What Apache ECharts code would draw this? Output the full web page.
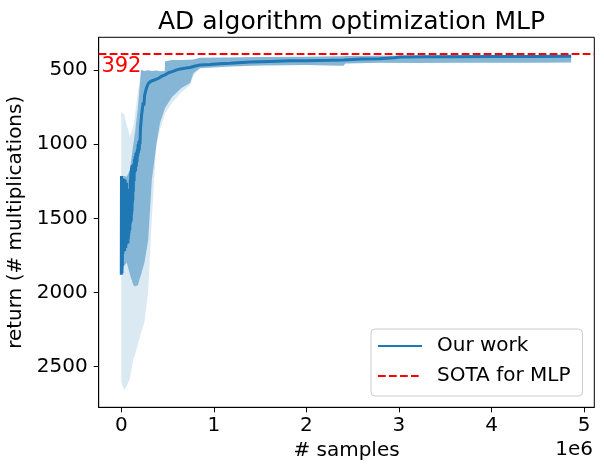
<!DOCTYPE html>
<html>
<head>
<meta charset="utf-8">
<script src="https://cdn.jsdelivr.net/npm/echarts@6/dist/echarts.min.js"></script>
<style>
html,body{margin:0;padding:0;background:#fff;}
#chart{width:604px;height:472px;}
</style>
</head>
<body>
<div id="chart"></div>
<script>
// x values are in units of 1e6 samples
var meanX = [0.000,0.002,0.004,0.006,0.008,0.010,0.012,0.014,0.016,0.018,0.020,0.022,0.024,0.026,0.028,0.030,0.032,0.034,0.036,0.038,0.040,0.042,0.044,0.046,0.048,0.050,0.052,0.054,0.056,0.058,0.060,0.062,0.064,0.066,0.068,0.070,0.072,0.074,0.076,0.078,0.080,0.082,0.084,0.086,0.088,0.090,0.092,0.094,0.096,0.098,0.100,0.102,0.104,0.106,0.108,0.110,0.112,0.114,0.116,0.118,0.120,0.122,0.124,0.126,0.130,0.134,0.138,0.142,0.146,0.150,0.154,0.158,0.162,0.166,0.170,0.174,0.178,0.182,0.186,0.190,0.194,0.198,0.202,0.208,0.214,0.220,0.228,0.236,0.244,0.252,0.262,0.272,0.282,0.292,0.305,0.320,0.340,0.364,0.40,0.44,0.472,0.51,0.55,0.60,0.634,0.70,0.743,0.80,0.85,0.958,1.06,1.174,1.39,1.60,1.82,2.00,2.25,2.40,2.416,2.60,2.794,2.95,3.01,3.30,3.55,4.00,4.50,4.86];
var meanY = [1880,1215,1860,1240,1870,1300,1820,1230,1740,1290,1730,1250,1700,1340,1690,1235,1650,1260,1720,1300,1690,1240,1660,1280,1700,1320,1680,1380,1650,1260,1670,1400,1640,1350,1660,1420,1670,1360,1640,1380,1620,1350,1600,1330,1560,1300,1580,1350,1540,1240,1530,1200,1500,1180,1520,1160,1470,1150,1450,1140,1400,1150,1380,1140,1320,1130,1250,1100,1190,1080,1180,1060,1150,1050,1120,1030,1080,1000,1060,980,1040,970,1000,890,900,800,810,720,740,670,680,620,630,590,600,575,580,565,556,540,532,518,510,498,492,486,482,472,466,462,457,453,445,441,437,436,434,432,426,425,423,416,412,410,409,408,408,407];

var bandX  = [0,0.03,0.06,0.094,0.13,0.148,0.18,0.202,0.213,0.25,0.29,0.33,0.38,0.418,0.47,0.472,0.548,0.65,0.743,0.78,0.85,1.174,1.5,2.0,2.4,2.42,2.79,3.2,3.6,4.0,4.4,4.86];
var bandLo = [1213,1215,1220,1170,1000,923,750,586,498,505,500,506,502,508,505,442,431,431,430,428,416,414,412,410,407,405,403,401,400,399,398,397];
var bandHi = [1880,1820,1800,1880,1950,1960,1950,1900,1880,1800,1650,1240,1000,856,760,755,681,620,586,520,488,476,469,466,470,455,450,452,450,451,450,449];
var outerLo = [780,800,870,950,880,800,650,560,498,505,500,506,502,508,505,442,431,431,430,428,416,414,412,410,407,405,403,401,400,399,398,397];
var outerHi = [2600,2660,2630,2580,2450,2420,2350,2300,2270,2200,2000,1500,1000,900,800,795,720,650,600,540,488,476,469,466,470,455,450,452,450,451,450,449];

var sotaValue = 392;
var xTicks = [0,1,2,3,4,5];
var yTicks = [500,1000,1500,2000,2500];
var xMin = -0.244, xMax = 5.11;
var yMin = 278.5, yMax = 2774.5;

function pairs(xs, ys){ return xs.map(function(x,i){ return [x, ys[i]]; }); }
function bandRenderer(xs, lo, hi, fill){
  return function(params, api){
    if (params.dataIndex !== 0) return null;
    var pts = [];
    for (var i = 0; i < xs.length; i++) pts.push(api.coord([xs[i], lo[i]]));
    for (var j = xs.length - 1; j >= 0; j--) pts.push(api.coord([xs[j], hi[j]]));
    return {type:'polygon', shape:{points:pts}, style:{fill:fill, stroke:null}};
  };
}

var FONT = 'DejaVu Sans';
var chart = echarts.init(document.getElementById('chart'), null, {renderer:'canvas'});
chart.setOption({
  animation:false,
  backgroundColor:'#ffffff',
  title:{
    text:'AD algorithm optimization MLP',
    left:153, top:5,
    textStyle:{fontFamily:FONT, fontSize:25, fontWeight:'normal', color:'#000'}
  },
  grid:{left:98.7, right:9.7, top:37.3, bottom:64.7, containLabel:false, outerBoundsMode:'none',
        show:true, borderColor:'#000', borderWidth:1, backgroundColor:'transparent'},
  legend:{
    data:['Our work','SOTA for MLP'],
    orient:'vertical',
    left:371, top:329,
    itemWidth:44, itemHeight:14, itemGap:10,
    padding:[7,12,10,6],
    backgroundColor:'rgba(255,255,255,0.8)',
    borderColor:'#cccccc', borderWidth:1, borderRadius:4,
    itemStyle:{opacity:0},
    lineStyle:{width:2},
    textStyle:{fontFamily:FONT, fontSize:20, color:'#000', padding:[0,0,0,10]}
  },
  xAxis:{
    type:'value', min:xMin, max:xMax,
    name:'# samples', nameLocation:'middle', nameGap:33,
    nameTextStyle:{fontFamily:FONT, fontSize:20, color:'#000'},
    axisLine:{show:true, onZero:false, lineStyle:{color:'#000', width:1}},
    axisTick:{show:true, inside:false, length:5, customValues:xTicks, lineStyle:{color:'#000', width:1}},
    axisLabel:{show:true, margin:8, customValues:xTicks, fontFamily:FONT, fontSize:20, color:'#000',
      formatter:function(v){ return String(Math.round(v)); }},
    splitLine:{show:false}
  },
  yAxis:{
    type:'value', inverse:true, min:yMin, max:yMax,
    name:'return (# multiplications)', nameLocation:'middle', nameGap:66, nameRotate:90,
    nameTextStyle:{fontFamily:FONT, fontSize:20, color:'#000'},
    axisLine:{show:true, onZero:false, lineStyle:{color:'#000', width:1}},
    axisTick:{show:true, inside:false, length:5, customValues:yTicks, lineStyle:{color:'#000', width:1}},
    axisLabel:{show:true, margin:11, customValues:yTicks, fontFamily:FONT, fontSize:20, color:'#000',
      formatter:function(v){ return String(Math.round(v)); }},
    splitLine:{show:false}
  },
  graphic:[{
    type:'text', right:11, top:440,
    style:{text:'1e6', fill:'#000', font:'20px "DejaVu Sans"'}
  }],
  series:[
    {name:'outer band', type:'custom', data:pairs(bandX, outerLo), encode:{x:0, y:1},
     renderItem:bandRenderer(bandX, outerLo, outerHi, 'rgba(31,119,180,0.16)'), silent:true, z:1},
    {name:'band', type:'custom', data:pairs(bandX, bandLo), encode:{x:0, y:1},
     renderItem:bandRenderer(bandX, bandLo, bandHi, 'rgba(31,119,180,0.45)'), silent:true, z:2},
    {name:'Our work', type:'line', data:pairs(meanX, meanY), symbol:'none',
     lineStyle:{color:'#1f77b4', width:3}, itemStyle:{color:'#1f77b4'}, z:3},
    {name:'SOTA for MLP', type:'line', data:[[xMin, sotaValue],[xMax, sotaValue]], symbol:'none',
     lineStyle:{color:'#ff0000', width:2, type:[7.7,3.3]}, itemStyle:{color:'#ff0000'}, z:4},
    {name:'sota label', type:'scatter', data:[[-0.215, sotaValue]], symbolSize:0,
     itemStyle:{color:'#ff0000', opacity:1}, silent:true, z:5,
     label:{show:true, formatter:String(sotaValue), position:[0,0], offset:[0,2], align:'left', verticalAlign:'top',
       color:'#ff0000', opacity:1, fontFamily:FONT, fontSize:21}}
  ]
});
</script>
</body>
</html>
